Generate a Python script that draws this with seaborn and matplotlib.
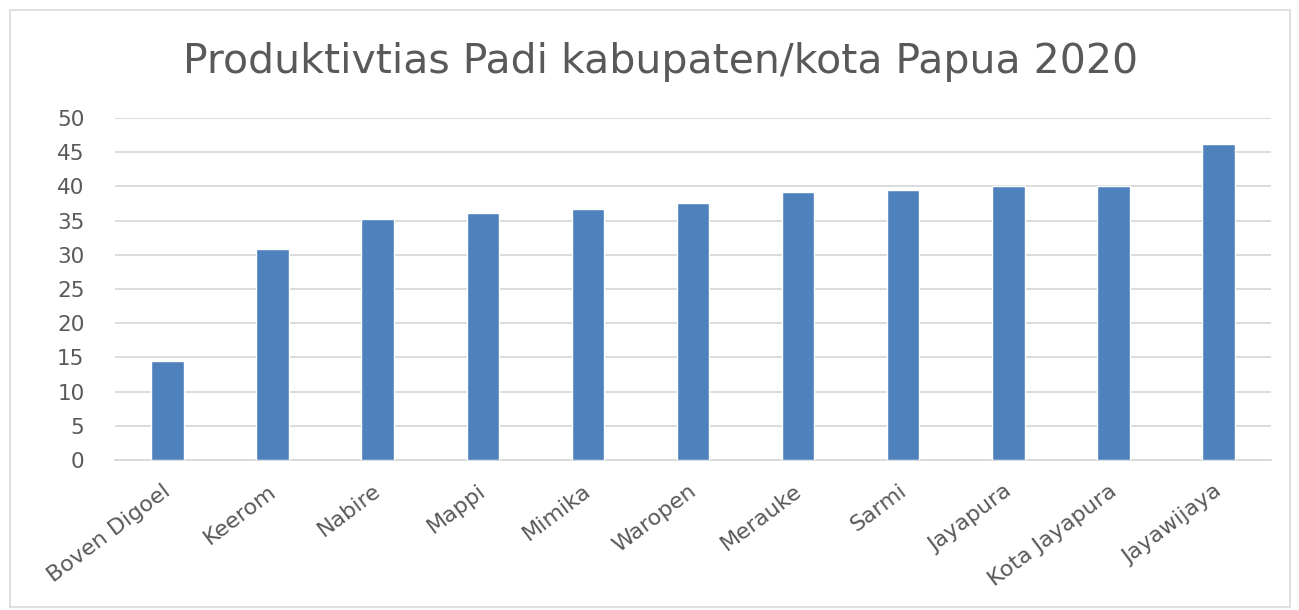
import matplotlib
matplotlib.use("Agg")
import matplotlib.pyplot as plt
import matplotlib.transforms as mtransforms
import seaborn as sns
import pandas as pd
from matplotlib.patches import Rectangle

categories = ["Boven Digoel", "Keerom", "Nabire", "Mappi", "Mimika", "Waropen",
              "Merauke", "Sarmi", "Jayapura", "Kota Jayapura", "Jayawijaya"]
values = [14.5, 30.9, 35.3, 36.1, 36.7, 37.6, 39.2, 39.5, 40.0, 40.0, 46.2]
yticks = [0, 5, 10, 15, 20, 25, 30, 35, 40, 45, 50]

sns.set_theme(style="white")
plt.rcParams['font.family'] = ['DejaVu Sans']

df = pd.DataFrame({"kab": categories, "val": values})

fig = plt.figure(figsize=(12.99, 6.10), dpi=100)
ax = fig.add_axes([115/1299, 1 - 460/610, (1271-115)/1299, (460-118)/610])

sns.barplot(data=df, x="kab", y="val", color="#4F81BD", width=0.31,
            saturation=1, ax=ax, zorder=3)

ax.set_ylim(0, 50)
ax.set_xlim(-0.5, len(categories) - 0.5)
ax.set_yticks(yticks)
ax.set_yticklabels([str(t) for t in yticks], fontsize=15.5, color="#595959")
ax.set_xticks(range(len(categories)))
ax.set_xticklabels(categories, rotation=37, ha="right", rotation_mode="anchor",
                   fontsize=16, color="#595959")
ax.tick_params(axis="y", length=0, pad=22)
ax.tick_params(axis="x", length=0, pad=15)
offset = mtransforms.ScaledTranslation(-5/100, 0, fig.dpi_scale_trans)
for lab in ax.get_xticklabels():
    lab.set_transform(lab.get_transform() + offset)
ax.set_xlabel("")
ax.set_ylabel("")
ax.yaxis.grid(True, color="#d9d9d9", linewidth=1.3, zorder=0)
ax.set_axisbelow(True)
for s in ["top", "right", "left"]:
    ax.spines[s].set_visible(False)
ax.spines["bottom"].set_color("#d9d9d9")
ax.spines["bottom"].set_linewidth(1.3)

fig.text(661/1299, 1 - 62/610, "Produktivtias Padi kabupaten/kota Papua 2020",
         ha="center", va="center", fontsize=29.5, color="#595959")

fig.patches.append(Rectangle((10/1299, 3/610), 1280/1299, 597/610,
                             transform=fig.transFigure, fill=False,
                             edgecolor="#d9d9d9", linewidth=1.2))

fig.savefig("out.png", dpi=100)
